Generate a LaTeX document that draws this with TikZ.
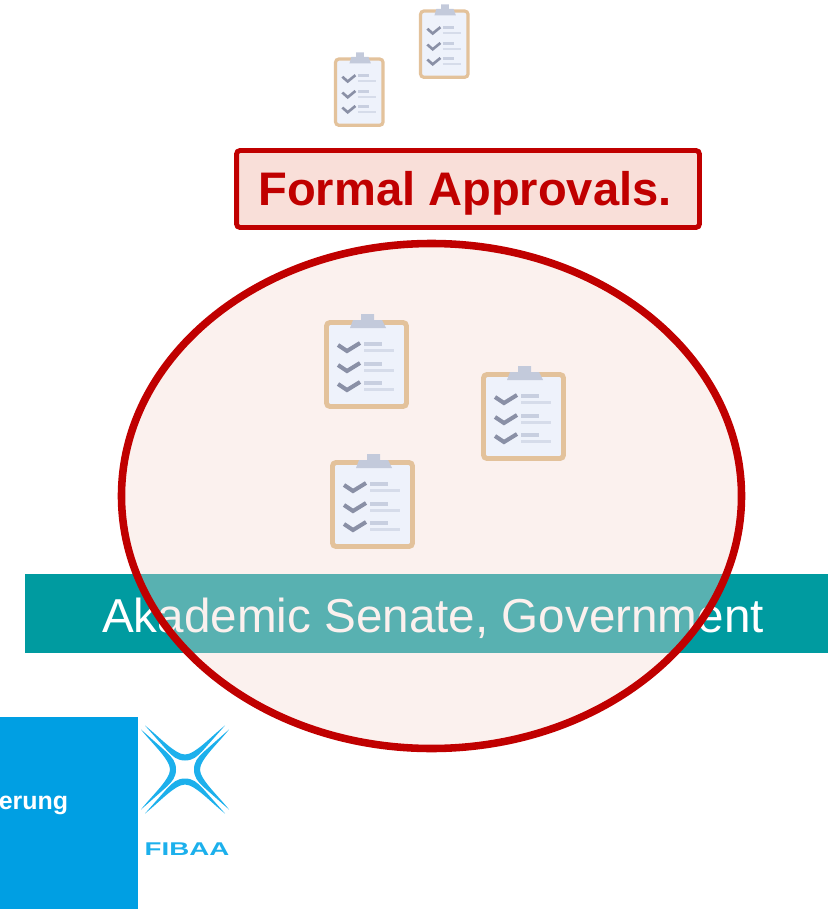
\documentclass[tikz,border=0pt]{standalone}
\usepackage{xcolor}
\usepackage{fontspec}
\usepackage{tikz}
\setmainfont{Liberation Sans}
\usetikzlibrary{calc}
\definecolor{seal}{HTML}{C00000}
\definecolor{sealfill}{HTML}{F4D8D0}
\definecolor{titlefill}{HTML}{F9DFD9}
\definecolor{bandteal}{HTML}{009BA0}
\definecolor{sideblue}{HTML}{009FE3}
\definecolor{logoblue}{HTML}{1CB0EC}
\definecolor{boardtan}{HTML}{E3C29B}
\definecolor{boardpaper}{HTML}{EEF2FB}
\definecolor{boardclip}{HTML}{C3CADB}
\definecolor{boardline}{HTML}{C8CFE0}
\definecolor{boardlight}{HTML}{D6DCEA}
\definecolor{boardtick}{HTML}{8A90A6}
\tikzstyle{title box}=[draw=seal, fill=titlefill, line width=2.8pt, rounded corners=2pt,
  minimum width=9.26cm, minimum height=1.54cm]
\tikzstyle{title label}=[text=seal, font=\fontsize{26.8}{30}\selectfont\bfseries]
\tikzstyle{band label}=[text=white, font=\fontsize{27.1}{30}\selectfont]
\tikzset{
  pics/checklist/.style={code={
    \draw [draw=boardtan, fill=boardpaper, line width=2.8pt*#1, rounded corners=2pt] (2.5,2.5) rectangle (82.5,86.5);
    \fill [boardclip] (26,8) -- (29,0) -- (37,0) -- (37,-6) -- (50,-6) -- (50,0) -- (58,0) -- (62,8) -- cycle;
    \foreach \dy in {0,20,39} {
      \draw [boardtick, line width=2.3pt*#1] (14,25+\dy) -- (23,31+\dy) -- (36,23+\dy);
      \draw [boardline, line width=2.6pt*#1] (40,24+\dy) -- (58,24+\dy);
      \draw [boardlight, line width=2pt*#1] (40,30.5+\dy) -- (70,30.5+\dy);
    }
  }}
}

\begin{document}
\begin{tikzpicture}[x=0.02cm, y=-0.02cm]
  \useasboundingbox (0,0) rectangle (828,909);
  % band and the ellipse over it
  \fill [bandteal] (25,574) rectangle (828,653);
  \node [band label] (senate) at (433,618) {Akademic Senate, Government};
  \draw [draw=seal, fill=sealfill, fill opacity=.36, line width=4.3pt] (431.5,496) ellipse [x radius=310, y radius=252.5];
  \node [title box] (approvals) at (468,189) {};
  \node [title label] (approvalstext) at (465,193) {Formal Approvals.};
  % checklists
  \pic at (324,320) {checklist=1};
  \pic at (481,372) {checklist=1};
  \pic at (330,460) {checklist=1};
  \pic [xscale=.595, yscale=.79] at (334,57) {checklist=.65};
  \pic [xscale=.595, yscale=.79] at (419,9) {checklist=.65};
  % bottom left
  \fill [sideblue] (0,717) rectangle (138,909);
  \node [anchor=east, inner sep=0pt, text=white, font=\fontsize{14.2}{16}\selectfont\bfseries] (sidetext) at (68.5,805) {erung};
  \foreach \r in {0,90,180,270} {
    \fill [logoblue, shift={(185,769.5)}, rotate=\r] (-40,-44) .. controls (-26,-33) and (-10,-15) .. (0,-15)
      .. controls (10,-15) and (26,-33) .. (40,-44) -- (17,-18) .. controls (12,-13) and (8,-9) .. (0,-9)
      .. controls (-8,-9) and (-12,-13) .. (-17,-18) -- cycle;
  }
  \node [text=logoblue, xscale=1.5, inner sep=0pt, font=\fontsize{10.5}{12}\selectfont\bfseries] (fibaa) at (187,849) {FIBAA};
\end{tikzpicture}
\end{document}
